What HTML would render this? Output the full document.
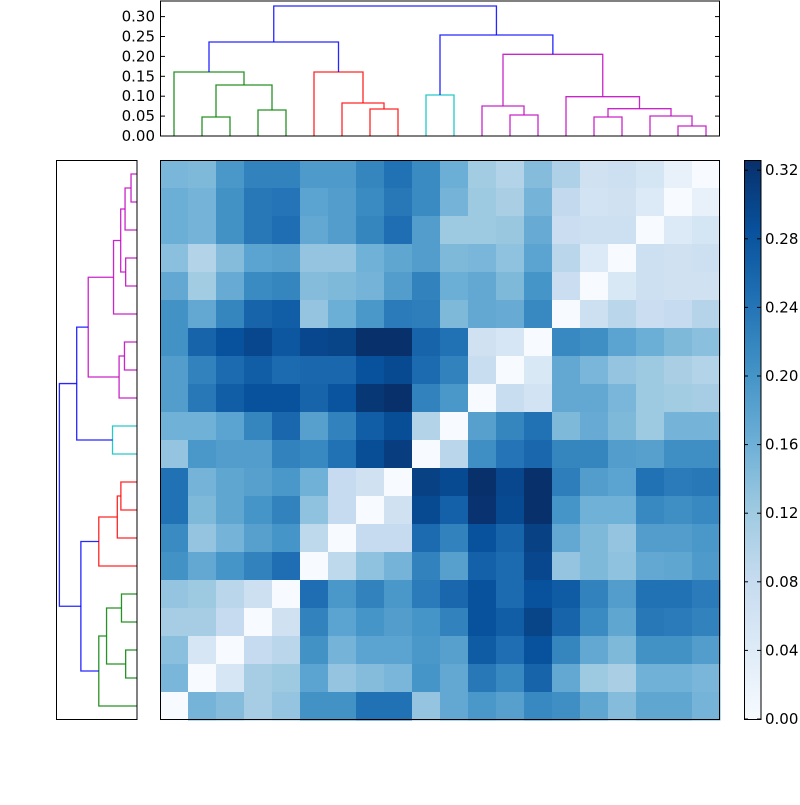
<!DOCTYPE html>
<html><head><meta charset="utf-8"><style>
html,body{margin:0;padding:0;background:#fff;}
svg text{font-family:"DejaVu Sans","Liberation Sans",sans-serif;font-size:15px;fill:#000;}
</style></head><body>
<svg id="s" width="800" height="800" xmlns="http://www.w3.org/2000/svg"></svg>
<script>
(function(){
var T=[
[3.7,3.6,4.8,5.5,5.5,4.7,4.7,5.4,6.0,5.2, 4.0,2.9,2.5,3.5,2.6,1.6,1.7,1.4,0.6,0],
[4.0,3.8,5.0,5.8,5.9,4.4,4.6,5.2,5.8,5.2, 3.8,3.0,2.7,3.8,2.1,1.5,1.6,1.1,0,0.6],
[4.0,3.8,5.0,5.8,6.1,4.2,4.6,5.4,6.1,4.6, 3.0,3.0,3.1,4.1,1.8,1.7,1.7,0,1.1,1.4],
[3.4,2.5,3.5,4.4,4.5,3.2,3.2,3.9,4.3,4.6, 3.6,3.7,3.3,4.4,2.3,1.1,0,1.7,1.6,1.7],
[4.2,2.9,4.1,5.2,5.4,3.5,3.6,3.8,4.6,5.5, 4.0,4.2,3.6,4.9,1.8,0,1.2,1.7,1.6,1.6],
[5.0,4.2,5.4,6.4,6.6,3.2,4.0,4.8,5.7,5.6, 3.6,4.2,4.1,5.3,0,1.7,2.3,1.8,2.0,2.4],
[5.0,6.4,7.0,7.3,6.8,7.3,7.4,8.0,8.0,6.4, 6.0,1.6,1.3,0,5.3,5.1,4.4,4.0,3.6,3.4],
[4.6,5.5,6.2,6.6,6.2,6.3,6.3,7.0,7.2,6.2, 5.5,1.9,0,1.2,4.2,3.7,3.2,3.0,2.7,2.5],
[4.6,5.8,6.6,7.0,7.0,6.4,6.9,7.8,8.0,5.5, 4.8,0,1.9,1.5,4.2,4.2,3.7,3.0,2.9,2.8],
[3.9,3.9,4.4,5.4,6.3,4.5,5.5,6.6,7.1,2.5, 0,4.5,5.4,6.0,3.6,4.1,3.6,3.0,3.8,3.8],
[3.2,4.8,4.6,4.6,5.5,5.3,6.0,7.1,7.6,0, 2.3,5.1,5.9,6.3,5.4,5.4,4.6,4.5,5.1,5.1],
[6.0,3.8,4.3,4.5,4.8,3.9,2.0,1.6,0,7.5, 7.2,8.0,7.3,8.0,5.6,4.6,4.4,6.0,5.7,5.8],
[6.0,3.6,4.3,4.9,5.5,3.3,2.0,0,1.6,7.2, 6.5,7.9,7.2,8.0,4.9,3.9,3.9,5.3,5.1,5.3],
[5.2,3.2,3.8,4.5,4.9,2.2,0,2.0,2.0,6.2, 5.5,7.0,6.4,7.5,4.2,3.6,3.2,4.6,4.6,4.8],
[5.0,4.2,4.9,5.5,6.1,0,2.2,3.3,3.8,5.5, 4.5,6.5,6.2,7.3,3.2,3.6,3.3,4.2,4.3,4.7],
[3.2,3.0,2.3,1.7,0,6.1,4.8,5.5,4.8,5.7, 6.3,7.0,6.2,7.0,6.7,5.5,4.6,6.0,6.0,5.7],
[2.8,2.8,2.0,0,1.6,5.5,4.4,4.9,4.6,4.9, 5.5,7.0,6.6,7.4,6.4,5.2,4.3,5.8,5.7,5.5],
[3.4,1.3,0,2.0,2.3,5.0,3.8,4.4,4.4,4.8, 4.5,6.7,6.1,7.0,5.4,4.2,3.6,5.0,5.0,4.6],
[3.7,0,1.3,2.8,3.0,4.4,3.2,3.5,3.7,4.9, 4.2,5.8,5.3,6.4,4.2,3.0,2.7,3.9,3.9,3.7],
[0,3.8,3.5,2.8,3.2,5.0,5.0,6.0,6.0,3.2, 4.2,4.8,4.5,5.3,5.1,4.3,3.5,4.3,4.3,3.8]];
var hex=["f7fbff","deebf7","c6dbef","9ecae1","6baed6","4292c6","2171b5","08519c","08306b"];
var stops=hex.map(function(h){return [0,2,4].map(function(i){return parseInt(h.substr(i,2),16);});});
function col(t){t=Math.max(0,Math.min(8,t));var i=Math.min(7,Math.floor(t)),f=t-i;var a=stops[i],b=stops[i+1];
 return "rgb("+a.map(function(v,k){return Math.round(v+(b[k]-v)*f);}).join(",")+")";}
var s="";
for(var r=0;r<20;r++)for(var c=0;c<20;c++)s+='<rect x="'+(160+28*c)+'" y="'+(160+28*r)+'" width="28.5" height="28.5" fill="'+col(T[r][c])+'"/>';
s+='<rect x="160.5" y="160.5" width="559" height="559" fill="none" stroke="#000" stroke-width="1"/>';
var C={b:"#0000ff",g:"#008000",r:"#ff0000",c:"#00bfbf",m:"#bf00bf"};
var N={};
function get(k){return typeof k==="number"?{x:174+28*k,y:136}:N[k];}
var defs=[
["A",1,2,117,"g"],["B",3,4,110,"g"],["C","A","B",85,"g"],["G",0,"C",72,"g"],
["D",7,8,109,"r"],["E",6,"D",103,"r"],["R",5,"E",72,"r"],["BL1","G","R",42,"b"],
["Cy",9,10,95,"c"],["F",12,13,115,"m"],["H",11,"F",106,"m"],["I",15,16,117,"m"],
["J",18,19,126,"m"],["K",17,"J",116,"m"],["L","I","K",108.7,"m"],["M",14,"L",96.7,"m"],
["N","H","M",54.3,"m"],["BL2","Cy","N",35,"b"],["Root","BL1","BL2",6,"b"]];
function X(v){return 137-(136-v)*0.597;}
function Y(v){return 706-(v-174);}
var topS="",leftS="";
defs.forEach(function(d){var A=get(d[1]),B=get(d[2]),y=d[3],cc=C[d[4]];N[d[0]]={x:(A.x+B.x)/2,y:y};
 topS+='<polyline points="'+A.x+','+A.y+' '+A.x+','+y+' '+B.x+','+y+' '+B.x+','+B.y+'" fill="none" stroke="'+cc+'" stroke-width="1.3" stroke-opacity="0.85"/>';
 leftS+='<polyline points="'+X(A.y)+','+Y(A.x)+' '+X(y)+','+Y(A.x)+' '+X(y)+','+Y(B.x)+' '+X(B.y)+','+Y(B.x)+'" fill="none" stroke="'+cc+'" stroke-width="1.3" stroke-opacity="0.85"/>';});
s+=topS+leftS;
s+='<rect x="160.5" y="1" width="559" height="135" fill="none" stroke="#000" stroke-width="1"/>';
s+='<rect x="56.5" y="160.5" width="80.5" height="559" fill="none" stroke="#000" stroke-width="1"/>';
var ticks=["0.00","0.05","0.10","0.15","0.20","0.25","0.30"];
ticks.forEach(function(t,i){var y=136-i*19.9;s+='<text x="155" y="'+(y+5)+'" text-anchor="end">'+t+'</text><line x1="160" x2="165" y1="'+y+'" y2="'+y+'" stroke="#000"/><line x1="715" x2="720" y1="'+y+'" y2="'+y+'" stroke="#000"/>';});
s+='<defs><linearGradient id="cb" x1="0" y1="1" x2="0" y2="0">';
for(var i=0;i<=8;i++)s+='<stop offset="'+(i/8)+'" stop-color="#'+hex[i]+'"/>';
s+='</linearGradient></defs><rect x="744.5" y="160.5" width="16.5" height="559" fill="url(#cb)" stroke="#000" stroke-width="1"/>';
for(var j=0;j<=8;j++){var yy=719-j*68.6;s+='<line x1="757" x2="761" y1="'+yy+'" y2="'+yy+'" stroke="#000"/><line x1="744" x2="748" y1="'+yy+'" y2="'+yy+'" stroke="#000"/><text x="765" y="'+(yy+5)+'">'+(j*0.04).toFixed(2)+'</text>';}
document.getElementById("s").innerHTML=s;
})();
</script>
</body></html>
